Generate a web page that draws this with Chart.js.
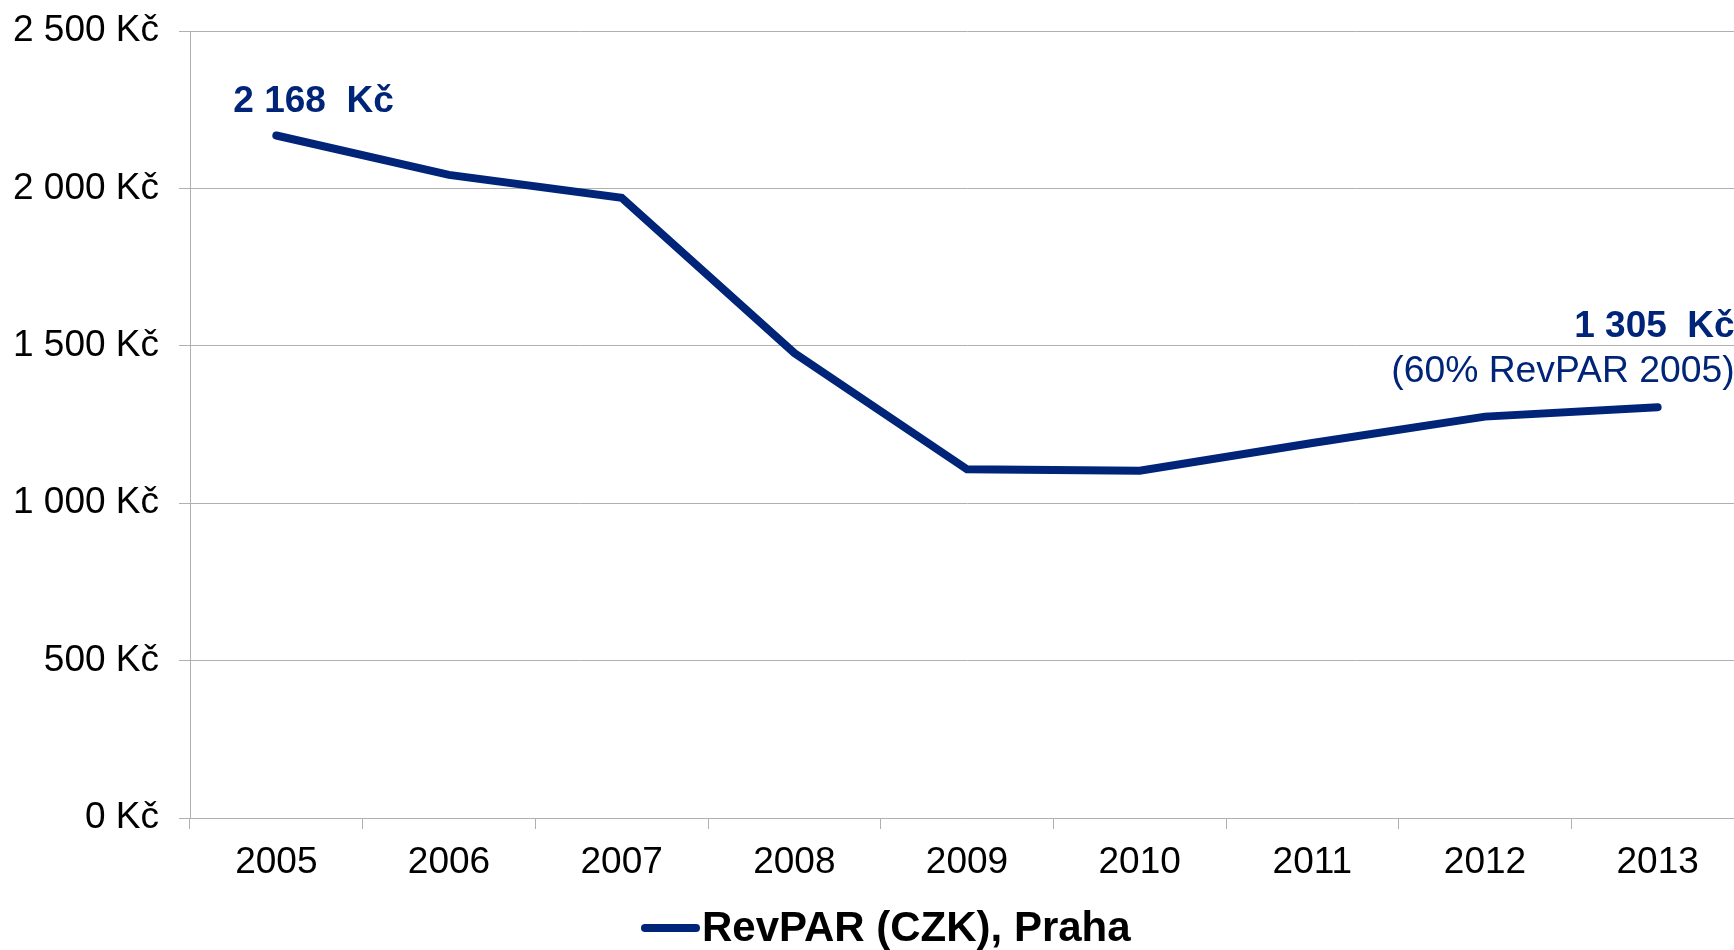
<!DOCTYPE html>
<html>
<head>
<meta charset="utf-8">
<script src="https://cdn.jsdelivr.net/npm/chart.js@4"></script>
<style>
  html, body { margin: 0; padding: 0; background: #fff; overflow: hidden; }
  #wrap { width: 1744px; height: 950px; position: relative; }
</style>
</head>
<body>
<div id="wrap"><canvas id="revparChart"></canvas></div>
<script>
// data
const years = ['2005', '2006', '2007', '2008', '2009', '2010', '2011', '2012', '2013'];
const revpar = [2168, 2043, 1970, 1477, 1108, 1103, 1191, 1275, 1305];
const yTicks = [0, 500, 1000, 1500, 2000, 2500];
const seriesName = 'RevPAR (CZK), Praha';
const shareNote = '(60% RevPAR 2005)';

const navy = '#002478';
const gridGray = '#b0b0b0';
const fontFam = '"Liberation Sans", Arial, sans-serif';

function fmtKc(v, gap) {
    return String(v).replace(/\B(?=(\d{3})+(?!\d))/g, ' ') + (gap ? '  Kč' : ' Kč');
}

// popisky u prvního a posledního bodu
const endLabels = {
    id: 'endLabels',
    afterDatasetsDraw(chart) {
        const ctx = chart.ctx;
        const x = chart.scales.x, y = chart.scales.y;
        const last = revpar.length - 1;
        ctx.save();
        ctx.fillStyle = navy;
        ctx.textBaseline = 'middle';

        let px = x.getPixelForValue(0), py = y.getPixelForValue(revpar[0]);
        ctx.font = 'bold 37px ' + fontFam;
        ctx.textAlign = 'left';
        ctx.fillText(fmtKc(revpar[0], true), px - 43, py - 34);

        px = x.getPixelForValue(last); py = y.getPixelForValue(revpar[last]);
        ctx.textAlign = 'right';
        ctx.fillText(fmtKc(revpar[last], true), px + 77, py - 80);
        ctx.font = '37.3px ' + fontFam;
        ctx.fillText(shareNote, px + 77, py - 35);
        ctx.restore();
    }
};

// legenda dole - čára těsně u textu
const bottomLegend = {
    id: 'bottomLegend',
    afterDraw(chart) {
        const ctx = chart.ctx;
        const ds = chart.data.datasets[0];
        const left = chart.width / 2 - 231;
        const cy = chart.height - 22;
        ctx.save();
        ctx.strokeStyle = ds.borderColor;
        ctx.lineWidth = 8;
        ctx.lineCap = 'round';
        ctx.beginPath();
        ctx.moveTo(left + 4, cy);
        ctx.lineTo(left + 55, cy);
        ctx.stroke();
        ctx.font = 'bold 42px ' + fontFam;
        ctx.fillStyle = '#000';
        ctx.textAlign = 'left';
        ctx.textBaseline = 'middle';
        ctx.fillText(ds.label, left + 61, cy + 1);
        ctx.restore();
    }
};

new Chart(document.getElementById('revparChart'), {
    type: 'line',
    data: {
        labels: years,
        datasets: [{
            label: seriesName,
            data: revpar,
            borderColor: navy,
            backgroundColor: navy,
            borderWidth: 8,
            borderCapStyle: 'round',
            borderJoinStyle: 'miter',
            pointRadius: 0,
            pointHoverRadius: 0,
            tension: 0
        }]
    },
    options: {
        responsive: true,
        maintainAspectRatio: false,
        animation: false,
        layout: { padding: { top: 31, right: 0, left: 0, bottom: 60 } },
        plugins: {
            tooltip: { enabled: false },
            legend: { display: false }
        },
        scales: {
            x: {
                offset: true,
                afterFit(axis) { axis.height = 72; },
                grid: {
                    offset: true,
                    drawOnChartArea: false,
                    drawTicks: true,
                    tickLength: 11,
                    color: gridGray
                },
                border: { color: gridGray },
                ticks: {
                    padding: 12,
                    color: '#000',
                    font: { family: fontFam, size: 37 }
                }
            },
            y: {
                min: 0,
                max: 2500,
                afterFit(axis) {
                    axis.width = 190;
                    axis.paddingTop = 0;
                    axis.paddingBottom = 0;
                },
                afterBuildTicks(axis) { axis.ticks = yTicks.map(v => ({ value: v })); },
                grid: { color: gridGray, tickLength: 11 },
                border: { color: gridGray },
                ticks: {
                    padding: 20,
                    color: '#000',
                    font: { family: fontFam, size: 37 },
                    callback: v => fmtKc(v, false)
                }
            }
        }
    },
    plugins: [endLabels, bottomLegend]
});
</script>
</body>
</html>
